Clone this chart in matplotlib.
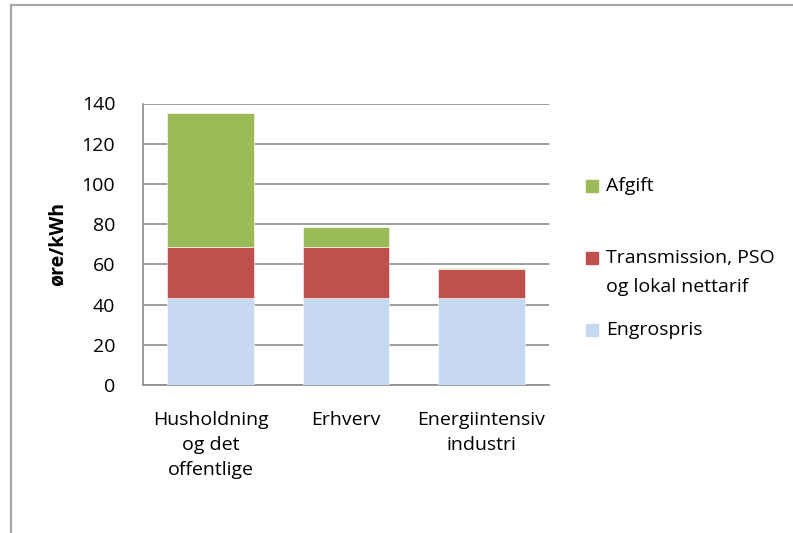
"""Stacked bar chart: electricity price components by consumer group."""

import matplotlib
matplotlib.use("Agg")
from matplotlib import pyplot as plt
from matplotlib.lines import Line2D
from matplotlib.patches import Rectangle
import numpy as np

categories = ["Husholdning\nog det\noffentlige", "Erhverv", "Energiintensiv\nindustri"]
engrospris = [43.5, 43.5, 43.5]
transmission = [25.3, 25.3, 14.0]
afgift = [66.5, 9.7, 0.8]

series_labels = ["Engrospris", "Transmission, PSO\nog lokal nettarif", "Afgift"]
colors = ["#C6D9F1", "#C0504D", "#9BBB59"]
yticks = [0, 20, 40, 60, 80, 100, 120, 140]

plt.rcParams["font.family"] = ["Open Sans", "DejaVu Sans"]
FS = 14
GRID = "#8c8c8c"

if __name__ == "__main__":
    fig = plt.figure(figsize=(7.93, 5.33), dpi=100)
    ax = fig.add_axes([143 / 793, 1 - 385 / 533, 406 / 793, 281.5 / 533])

    x = np.arange(len(categories))
    bottom = np.zeros(len(categories))
    for values, color in zip([engrospris, transmission, afgift], colors):
        ax.bar(x, values, width=0.64, bottom=bottom, color=color,
               edgecolor="white", linewidth=0.4, zorder=3)
        bottom += np.array(values)

    ax.set_xlim(-0.5, len(categories) - 0.5)
    ax.set_ylim(0, 140)
    ax.set_yticks(yticks)
    ax.set_yticklabels([str(v) for v in yticks], fontsize=FS)
    ax.set_xticks(x)
    ax.set_xticklabels(categories, fontsize=FS, linespacing=1.5)
    ax.tick_params(axis="both", length=0)
    ax.tick_params(axis="x", pad=19)
    ax.tick_params(axis="y", pad=20)
    ax.yaxis.grid(True, color=GRID, linewidth=1.2, zorder=0)
    ax.set_axisbelow(True)
    for side in ["top", "right"]:
        ax.spines[side].set_visible(False)
    for side in ["left", "bottom"]:
        ax.spines[side].set_color(GRID)
        ax.spines[side].set_linewidth(1.2)

    ax.set_ylabel("øre/kWh", fontsize=FS, fontweight="bold", labelpad=10)

    # legend drawn by hand, squares aligned with the first line of each label
    W, H = 793, 533
    legend_rows = [(2, 186), (1, 258), (0, 330)]
    for idx, ypix in legend_rows:
        fig.add_artist(Rectangle((586 / W, 1 - (ypix + 6) / H), 12 / W, 12 / H,
                                 transform=fig.transFigure, color=colors[idx]))
        fig.text(606 / W, 1 - (ypix - 9) / H, series_labels[idx], fontsize=FS,
                 va="top", ha="left", linespacing=1.75)

    # outer chart frame
    frame = dict(color="#a6a6a6", linewidth=1.6, transform=fig.transFigure)
    fig.add_artist(Line2D([11 / W, 11 / W], [0, 1 - 5 / H], **frame))
    fig.add_artist(Line2D([11 / W, 1], [1 - 5 / H, 1 - 5 / H], **frame))

    fig.savefig("out.png", dpi=100)
